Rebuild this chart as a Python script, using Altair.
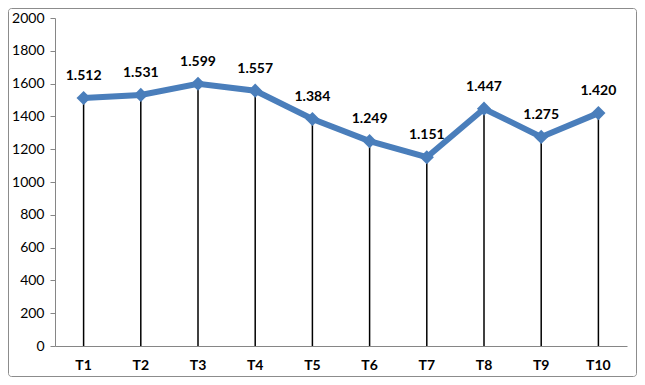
import altair as alt
import pandas as pd

categories = ["T1", "T2", "T3", "T4", "T5", "T6", "T7", "T8", "T9", "T10"]
values = [1512, 1531, 1599, 1557, 1384, 1249, 1151, 1447, 1275, 1420]
labels = [f"{v:,}".replace(",", ".") for v in values]

df = pd.DataFrame({"cat": categories, "val": values, "label": labels})

FONT = "Lato"
x = alt.X("cat:N", sort=categories, title=None,
          axis=alt.Axis(labelAngle=0, labelFontWeight="bold", labelFontSize=14,
                        labelColor="#000", ticks=False, labelPadding=12,
                        domainColor="#868686", labelFont=FONT))
y = alt.Y("val:Q", title=None,
          scale=alt.Scale(domain=[0, 2000]),
          axis=alt.Axis(values=list(range(0, 2001, 200)), grid=False, format="d",
                        labelFontSize=14, labelColor="#000", tickSize=5,
                        tickColor="#868686", domainColor="#868686",
                        labelPadding=6, labelFont=FONT))

base = alt.Chart(df)

border = base.transform_filter("datum.cat == 'T1'").mark_rect(
    fill=None, stroke="#8c8c8c", strokeWidth=1, cornerRadius=3
).encode(x=alt.value(-46.5), x2=alt.value(581.5), y=alt.value(-9.5), y2=alt.value(358.5))

rules = base.mark_rule(color="#000", strokeWidth=1.5).encode(
    x=x, y=y, y2=alt.datum(0))

line = base.mark_line(color="#4A7EBB", strokeWidth=6).encode(x=x, y=y)
pts = base.mark_point(shape="diamond", filled=True, color="#4A7EBB", size=200, opacity=1).encode(x=x, y=y)
text = base.mark_text(dy=-22, fontWeight="bold", fontSize=14, color="#000", font=FONT).encode(
    x=x, y=y, text="label:N")

chart = alt.layer(border, rules, line, pts, text).properties(
    width=572, height=328,
    autosize=alt.AutoSizeParams(type="none"),
    padding={"left": 47, "top": 10, "right": 10, "bottom": 31},
).configure_view(stroke=None).configure_scale(bandPaddingInner=0, bandPaddingOuter=0)

chart.save("out.html", embed_options={"renderer": "svg", "actions": False})
